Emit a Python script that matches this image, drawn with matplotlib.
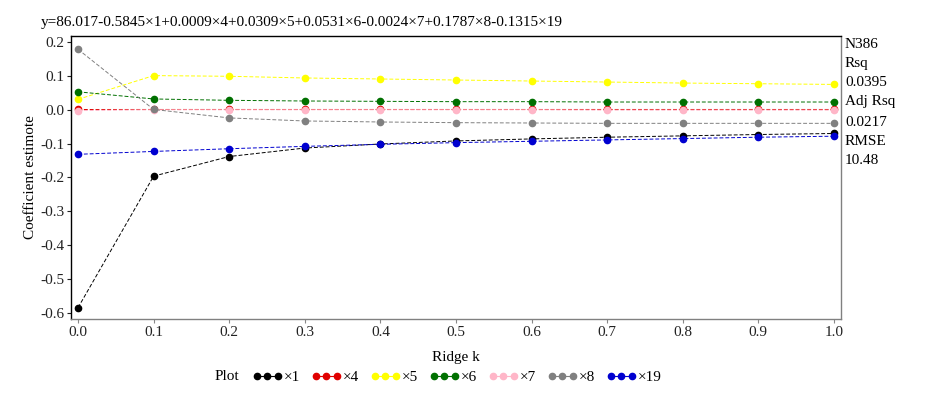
import matplotlib
matplotlib.use("Agg")
import matplotlib.pyplot as plt
from matplotlib.lines import Line2D

plt.rcParams['font.family'] = ['Liberation Serif', 'DejaVu Serif']

k = [0.0, 0.1, 0.2, 0.3, 0.4, 0.5, 0.6, 0.7, 0.8, 0.9, 1.0]
x1 = [-0.5845, -0.196, -0.138, -0.113, -0.101, -0.092, -0.086, -0.081, -0.077, -0.073, -0.070]
x4 = [0.0009, 0.001, 0.001, 0.001, 0.001, 0.001, 0.001, 0.001, 0.001, 0.001, 0.001]
x5 = [0.0309, 0.101, 0.099, 0.094, 0.091, 0.088, 0.085, 0.082, 0.079, 0.077, 0.075]
x6 = [0.0531, 0.032, 0.028, 0.026, 0.025, 0.024, 0.024, 0.023, 0.023, 0.023, 0.023]
x7 = [-0.0024, 0.000, 0.000, 0.000, 0.000, 0.000, 0.000, -0.001, -0.001, -0.001, -0.001]
x8 = [0.1787, 0.001, -0.024, -0.033, -0.036, -0.038, -0.039, -0.040, -0.040, -0.040, -0.040]
x19 = [-0.1315, -0.123, -0.115, -0.108, -0.102, -0.097, -0.093, -0.089, -0.085, -0.081, -0.078]

series = [("×1", x1, "black"), ("×4", x4, "#e00000"), ("×5", x5, "#ffff00"),
          ("×6", x6, "#007000"), ("×7", x7, "#ffb6c8"), ("×8", x8, "#808080"),
          ("×19", x19, "#0000d0")]

title = "y=86.017-0.5845×1+0.0009×4+0.0309×5+0.0531×6-0.0024×7+0.1787×8-0.1315×19"
stats = ["N386", "Rsq", "0.0395", "Adj Rsq", "0.0217", "RMSE", "10.48"]

fig = plt.figure(figsize=(9.27, 3.93), dpi=100)
ax = fig.add_axes([0.0766, 0.1883, 0.8306, 0.7201])

for name, vals, col in series:
    ax.plot(k, vals, color=col, lw=0.7, ls=(0, (4, 2)), marker='o', ms=4.5,
            markeredgecolor=col, markerfacecolor=col, label=name)

ax.set_xlim(-0.0093, 1.0093)
ax.set_ylim(-0.618, 0.218)
ax.set_xticks(k)
ax.set_xticklabels([f"{v:.1f}" for v in k])
yt = [0.2, 0.1, 0.0, -0.1, -0.2, -0.3, -0.4, -0.5, -0.6]
ax.set_yticks(yt)
ax.set_yticklabels([f"{v:.1f}" for v in yt])
ax.tick_params(labelsize=11, length=3, width=0.8, colors='#222222', pad=2)
ax.tick_params(axis='x', colors='#888888', labelcolor='#222222')
ax.spines['left'].set_color('black')
ax.spines['top'].set_color('black')
ax.spines['right'].set_color('#808080')
ax.spines['bottom'].set_color('#808080')
for s in ax.spines.values():
    s.set_linewidth(1.0)

ax.set_xlabel("Ridge k", fontsize=11, labelpad=9)
ax.set_ylabel("Coefficient estimote", fontsize=11, labelpad=2)

fig.text(0.044, 0.944, title, fontsize=11, va='center', ha='left')

ys = [44, 64, 83, 102, 122, 141, 160]
for t, yp in zip(stats, ys):
    fig.text(845 / 927, 1 - yp / 393, t, fontsize=11, va='center', ha='left')

handles = [Line2D([0], [0], color=col, lw=0.8, marker='o', ms=4.5) for _, _, col in series]
labels = [n for n, _, _ in series]
fig.text(215 / 927, 1 - 377 / 393, "Plot", fontsize=11, va='center', ha='left')
fig.legend(handles, labels, ncol=7, loc='center', bbox_to_anchor=(457 / 927, 1 - 377 / 393),
           frameon=False, fontsize=11, numpoints=3, handlelength=2.0, handletextpad=0.1,
           columnspacing=0.7, borderpad=0)

fig.savefig("out.png", dpi=100)
